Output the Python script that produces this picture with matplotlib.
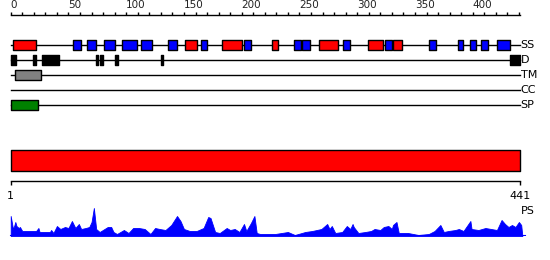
import matplotlib
matplotlib.use("Agg")
import matplotlib.pyplot as plt

# ── data (residue numbers, 1-based inclusive) ─────────────────────────────────
SEQ_LEN = 441

helix = [(3, 22), (152, 161), (184, 200), (227, 231), (268, 283), (310, 322), (332, 339)]
strand = [(55, 61), (67, 74), (82, 90), (97, 109), (114, 122), (137, 144), (166, 170),
          (203, 208), (246, 251), (253, 259), (289, 294), (325, 330), (363, 368),
          (388, 392), (399, 403), (408, 413), (422, 432)]
disorder = [(1, 5), (20, 22), (28, 42), (75, 76), (78, 80), (91, 93), (131, 132), (433, 441)]
transmem = [(5, 26)]
coiled = []
signal = [(1, 24)]
domain = [(1, 441)]

track_names = ["SS", "D", "TM", "CC", "SP"]
ruler_ticks = list(range(0, 441, 10))
ruler_labels = list(range(0, 401, 50))

# PS profile (residue, height)
ps_pos = [0, 2, 3, 4, 5, 7, 8, 10, 17, 22, 24, 25, 34, 35, 37, 40, 43, 45, 47, 50,
          53, 56, 59, 61, 65, 68, 70, 72, 74, 77, 84, 87, 89, 92, 98, 102, 106, 111,
          116, 121, 125, 129, 134, 136, 139, 144, 147, 150, 155, 161, 167, 171, 173,
          177, 181, 187, 190, 194, 198, 202, 204, 208, 211, 213, 216, 229, 240, 246,
          255, 261, 265, 269, 271, 274, 276, 278, 281, 287, 289, 291, 294, 296, 297,
          301, 307, 312, 315, 320, 323, 327, 330, 331, 334, 336, 344, 353, 362, 367,
          372, 375, 379, 385, 388, 392, 398, 399, 405, 411, 416, 421, 425, 428, 431,
          434, 437, 440, 442, 443]
ps_val = [20, 7, 10, 14, 10, 8, 9, 5, 5, 5, 8, 4, 4, 6, 3, 10, 7, 8, 9, 8,
          15, 8, 12, 7, 8, 9, 14, 28, 7, 4, 9, 9, 4, 2, 6, 3, 8, 8,
          7, 2, 8, 7, 6, 8, 11, 20, 15, 7, 5, 5, 8, 19, 18,
          4, 3, 8, 6, 7, 4, 12, 5, 13, 20, 3, 2, 2, 4, 1,
          4, 5, 6, 7, 9, 12, 7, 10, 3, 4, 7, 10, 7, 12, 9,
          3, 4, 5, 7, 6, 9, 10, 7, 11, 14, 3, 3, 1, 2, 5,
          11, 4, 5, 6, 7, 5, 15, 7, 6, 8, 7, 6, 16, 12, 9,
          11, 9, 14, 11, 0]

# ── layout (pixels) ───────────────────────────────────────────────────────────
W, H = 550, 260
X0, PX = 10.7, 1.155          # pixel of residue 0, pixels per residue
track_y = [45, 60, 75, 90, 105]
BOX_H = 10

fig = plt.figure(figsize=(W / 100, H / 100), dpi=100)
ax = fig.add_axes([0, 0, 1, 1])
ax.set_xlim(-X0 / PX, (W - X0) / PX)
ax.set_ylim(H, 0)
ax.axis("off")

# top ruler
ax.plot([0, SEQ_LEN], [15, 15], color="black", lw=1)
ax.vlines(ruler_ticks, 12, 15, color="black", lw=1)
for t in ruler_labels:
    ax.text(t, 10, str(t), ha="left", va="bottom", fontsize=7.5, color="#222")

# feature tracks
tracks = [
    [(helix, "red"), (strand, "blue")],
    [(disorder, "black")],
    [(transmem, "gray")],
    [(coiled, "orange")],
    [(signal, "green")],
]
for name, y, feats in zip(track_names, track_y, tracks):
    ax.plot([0, SEQ_LEN], [y, y], color="black", lw=1, zorder=1)
    for segs, col in feats:
        if segs:
            ax.broken_barh([(s - 1, e - s + 1) for s, e in segs], (y - BOX_H / 2, BOX_H),
                           facecolors=col, edgecolors="black", lw=1, zorder=2)
    ax.text(SEQ_LEN + 0.5, y, name, ha="left", va="center", fontsize=8)

# domain bar
ax.broken_barh([(s - 1, e - s + 1) for s, e in domain], (150, 20.5),
               facecolors="red", edgecolors="black", lw=1)

# bottom ruler
ax.plot([0, SEQ_LEN], [180.5, 180.5], color="black", lw=1)
ax.vlines([0, SEQ_LEN], 180.5, 185, color="black", lw=1)
ax.text(0, 196, "1", ha="center", va="center", fontsize=8)
ax.text(SEQ_LEN, 196, str(SEQ_LEN), ha="center", va="center", fontsize=8)
ax.text(SEQ_LEN + 1, 211, "PS", ha="left", va="center", fontsize=8)

# PS profile
ax2 = fig.add_axes([0, (H - 236) / H, 1, 30 / H])
ax2.set_xlim(ax.get_xlim())
ax2.set_ylim(0, 30)
ax2.axis("off")
ax2.fill_between(ps_pos, 0, ps_val, color="blue", lw=0.6, edgecolor="blue")
ax2.plot([0, 445], [0.5, 0.5], color="blue", lw=1.5)

fig.savefig("out.png", dpi=100)
